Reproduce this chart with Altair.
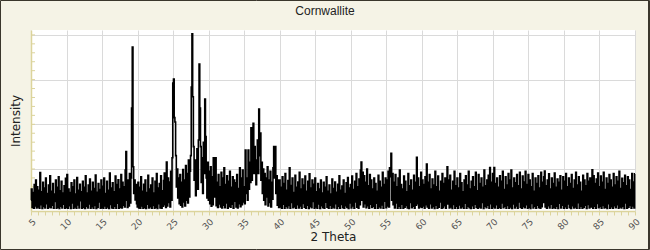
import altair as alt
import pandas as pd

# Intensity read at 0.1 degree steps, one list per 5-degree block
seg05 = [60, 110, 28, 95, 24, 130, 35, 150, 26, 120,
         30, 105, 25, 184, 40, 98, 23, 140, 32, 115,
         26, 160, 45, 90, 24, 128, 30, 170, 27, 100,
         38, 135, 24, 88, 55, 150, 25, 118, 29, 165,
         23, 102, 34, 145, 26, 92, 42, 125, 24, 158]
seg10 = [28, 175, 25, 110, 36, 95, 23, 138, 48, 120,
         25, 150, 30, 88, 24, 162, 39, 105, 26, 132,
         58, 98, 24, 145, 29, 118, 23, 170, 33, 92,
         26, 128, 44, 155, 24, 100, 31, 140, 25, 112,
         37, 173, 23, 96, 28, 135, 52, 108, 24, 150]
seg15 = [27, 122, 24, 160, 35, 90, 25, 145, 30, 105,
         23, 182, 41, 115, 26, 138, 24, 98, 33, 168,
         25, 130, 47, 152, 24, 110, 29, 175, 26, 140,
         38, 120, 30, 195, 278, 60, 28, 150, 35, 180,
         48, 160, 473, 746, 210, 90, 150, 62, 130, 45]
seg20 = [30, 140, 26, 118, 24, 165, 35, 100, 25, 132,
         28, 150, 23, 95, 42, 172, 26, 110, 31, 128,
         24, 160, 37, 92, 25, 145, 29, 180, 23, 115,
         45, 135, 26, 170, 24, 102, 33, 148, 182, 40,
         28, 231, 35, 160, 50, 142, 30, 190, 60, 250]
seg25 = [585, 603, 430, 410, 260, 120, 200, 70, 160, 45,
         175, 38, 140, 30, 198, 52, 150, 35, 215, 60,
         180, 48, 240, 75, 190, 260, 567, 805, 523, 300,
         150, 240, 80, 200, 290, 110, 330, 670, 473, 300,
         140, 250, 90, 320, 180, 513, 345, 160, 70, 230]
seg30 = [60, 190, 45, 210, 33, 165, 40, 250, 75, 150,
         250, 36, 140, 28, 175, 44, 120, 30, 185, 26,
         160, 38, 205, 27, 130, 48, 170, 25, 145, 33,
         190, 29, 118, 42, 165, 24, 150, 56, 138, 30,
         175, 26, 112, 45, 205, 31, 160, 40, 195, 52]
seg35 = [120, 45, 285, 90, 160, 60, 285, 110, 230, 140,
         384, 150, 260, 405, 180, 300, 200, 130, 240, 330,
         180, 468, 260, 361, 150, 230, 90, 200, 60, 180,
         40, 160, 75, 210, 35, 150, 50, 190, 30, 140,
         65, 205, 300, 160, 300, 90, 170, 38, 150, 28]
seg40 = [150, 30, 118, 25, 165, 42, 135, 24, 180, 33,
         105, 26, 148, 37, 205, 24, 126, 50, 160, 27,
         95, 31, 172, 24, 118, 40, 142, 26, 185, 35,
         110, 24, 155, 46, 128, 29, 168, 25, 100, 38,
         145, 23, 178, 32, 115, 27, 150, 55, 132, 24]
seg45 = [160, 30, 98, 25, 135, 44, 110, 23, 150, 36,
         92, 27, 140, 24, 118, 51, 165, 29, 100, 25,
         128, 38, 88, 24, 155, 30, 112, 26, 142, 45,
         96, 23, 132, 33, 170, 25, 105, 41, 124, 27,
         150, 24, 90, 36, 138, 28, 162, 23, 115, 48]
seg50 = [130, 26, 168, 35, 108, 24, 145, 52, 180, 29,
         120, 25, 155, 40, 195, 231, 60, 185, 30, 170,
         45, 140, 27, 200, 36, 125, 24, 175, 42, 150,
         28, 110, 33, 160, 25, 135, 47, 100, 24, 172,
         31, 145, 26, 118, 39, 185, 24, 130, 56, 160]
seg55 = [27, 150, 35, 190, 30, 205, 165, 270, 60, 180,
         40, 140, 26, 175, 48, 120, 24, 160, 33, 195,
         25, 130, 42, 110, 24, 168, 29, 145, 37, 98,
         26, 180, 23, 125, 50, 150, 27, 105, 34, 172,
         24, 140, 38, 252, 45, 160, 26, 120, 31, 185]
seg60 = [28, 150, 35, 130, 24, 165, 40, 222, 30, 140,
         25, 175, 45, 110, 26, 155, 32, 128, 23, 190,
         38, 120, 24, 168, 29, 100, 52, 145, 25, 180,
         27, 135, 36, 160, 24, 118, 210, 44, 150, 26,
         172, 30, 105, 23, 145, 41, 190, 25, 125, 34]
seg65 = [160, 24, 115, 39, 180, 26, 138, 31, 98, 25,
         150, 47, 170, 24, 128, 33, 190, 27, 110, 23,
         145, 36, 165, 25, 120, 42, 185, 28, 102, 24,
         175, 30, 135, 26, 160, 50, 118, 23, 195, 34,
         125, 27, 150, 38, 172, 25, 206, 45, 140, 24]
seg70 = [180, 31, 206, 26, 135, 40, 160, 24, 118, 29,
         170, 25, 145, 48, 190, 27, 108, 33, 165, 24,
         128, 37, 180, 25, 150, 30, 195, 23, 115, 44,
         160, 26, 138, 35, 175, 24, 125, 52, 185, 28,
         110, 24, 168, 32, 142, 27, 190, 40, 130, 25]
seg75 = [175, 29, 150, 23, 120, 46, 180, 26, 100, 34,
         160, 24, 135, 38, 170, 27, 115, 25, 185, 31,
         140, 50, 165, 191, 30, 125, 24, 150, 36, 178,
         26, 110, 42, 160, 24, 135, 29, 182, 25, 118,
         33, 155, 23, 140, 47, 170, 26, 105, 38, 165]
seg80 = [24, 145, 31, 180, 25, 120, 44, 160, 27, 135,
         23, 175, 36, 112, 26, 150, 30, 185, 24, 128,
         49, 165, 25, 140, 33, 100, 24, 172, 28, 150,
         38, 125, 23, 180, 41, 145, 26, 160, 30, 115,
         196, 25, 170, 34, 135, 24, 155, 46, 182, 27]
seg85 = [120, 32, 168, 24, 140, 37, 185, 26, 108, 29,
         160, 23, 135, 45, 175, 25, 150, 31, 118, 24,
         180, 36, 128, 27, 165, 40, 145, 24, 190, 30,
         112, 26, 158, 33, 138, 23, 172, 48, 125, 25,
         165, 29, 150, 37, 108, 24, 180, 35, 142, 26]
last_value = [178]

segments = [seg05, seg10, seg15, seg20, seg25, seg30, seg35, seg40, seg45,
            seg50, seg55, seg60, seg65, seg70, seg75, seg80, seg85, last_value]
intensity = [v for s in segments for v in s]
theta = [round(5 + i * 0.1, 1) for i in range(len(intensity))]

chart_title = "Cornwallite"
x_tick_values = list(range(5, 91))
y_tick_values = list(range(40, 801, 40))
y_grid_values = [200, 400, 600, 800]

df = pd.DataFrame({"theta": theta, "intensity": intensity})
ydf = pd.DataFrame({"intensity": y_tick_values})

AXIS_YELLOW = "#dcd49c"
GRID = "#dadada"
FRAME = "#3a362c"

x_axis = alt.Axis(
    title="2 Theta", values=x_tick_values,
    labelExpr="datum.value % 5 === 0 ? datum.label : ''",
    labelAngle=-45, labelFontSize=9, labelColor="#555555", labelFont="DejaVu Sans",
    labelOverlap=False, labelFlush=False, labelPadding=2,
    tickColor=AXIS_YELLOW, tickSize=4, tickWidth=1,
    domainColor=AXIS_YELLOW, domainWidth=1.5,
    gridColor=GRID, gridWidth=1,
    gridOpacity={"condition": {"test": "datum.value % 5 === 0", "value": 1}, "value": 0},
    titleFont="DejaVu Sans", titleFontSize=12, titleFontWeight="normal",
    titleColor="#222222", titleY=29, titleBaseline="alphabetic",
)
y_axis = alt.Axis(
    title="Intensity", values=y_grid_values, labels=False, ticks=False,
    domainColor=AXIS_YELLOW, domainWidth=1.5,
    gridColor=GRID, gridWidth=1,
    titleFont="DejaVu Sans", titleFontSize=12, titleFontWeight="normal",
    titleColor="#222222", titlePadding=9,
)

xs = alt.Scale(domain=[5, 90], nice=False, zero=False)
ys = alt.Scale(domain=[12, 822], nice=False, zero=False)

line = alt.Chart(df).mark_line(color="black", strokeWidth=1.6, interpolate="step").encode(
    x=alt.X("theta:Q", scale=xs, axis=x_axis),
    y=alt.Y("intensity:Q", scale=ys, axis=y_axis),
)

yticks = alt.Chart(ydf).mark_rule(color=AXIS_YELLOW, strokeWidth=1).encode(
    y=alt.Y("intensity:Q", scale=ys, axis=y_axis),
    x=alt.value(0), x2=alt.value(4),
)

frame = alt.Chart(pd.DataFrame({"k": [0]})).mark_rect(
    filled=False, stroke=FRAME, strokeWidth=1
).encode(
    x=alt.value(-30.5), x2=alt.value(618.5),
    y=alt.value(-29.5), y2=alt.value(219.5),
)
frame_right = alt.Chart(pd.DataFrame({"k": [0]})).mark_rule(
    color=FRAME, strokeWidth=1
).encode(x=alt.value(617.5), y=alt.value(-30), y2=alt.value(220))

title_text = alt.Chart(pd.DataFrame({"t": [chart_title]})).mark_text(
    font="Liberation Sans", fontSize=12, color="#222222",
    align="center", baseline="alphabetic",
).encode(x=alt.value(294), y=alt.value(-15), text="t:N")

chart = alt.layer(yticks, line, frame, frame_right, title_text).properties(
    width=604, height=181,
    padding={"left": 31, "top": 30, "right": 15, "bottom": 39},
    autosize=alt.AutoSizeParams(type="none"),
).configure(
    background="#f5f3e6",
).configure_view(
    fill="white", stroke=None,
)

chart.save("out.html", embed_options={"renderer": "svg", "actions": False})
